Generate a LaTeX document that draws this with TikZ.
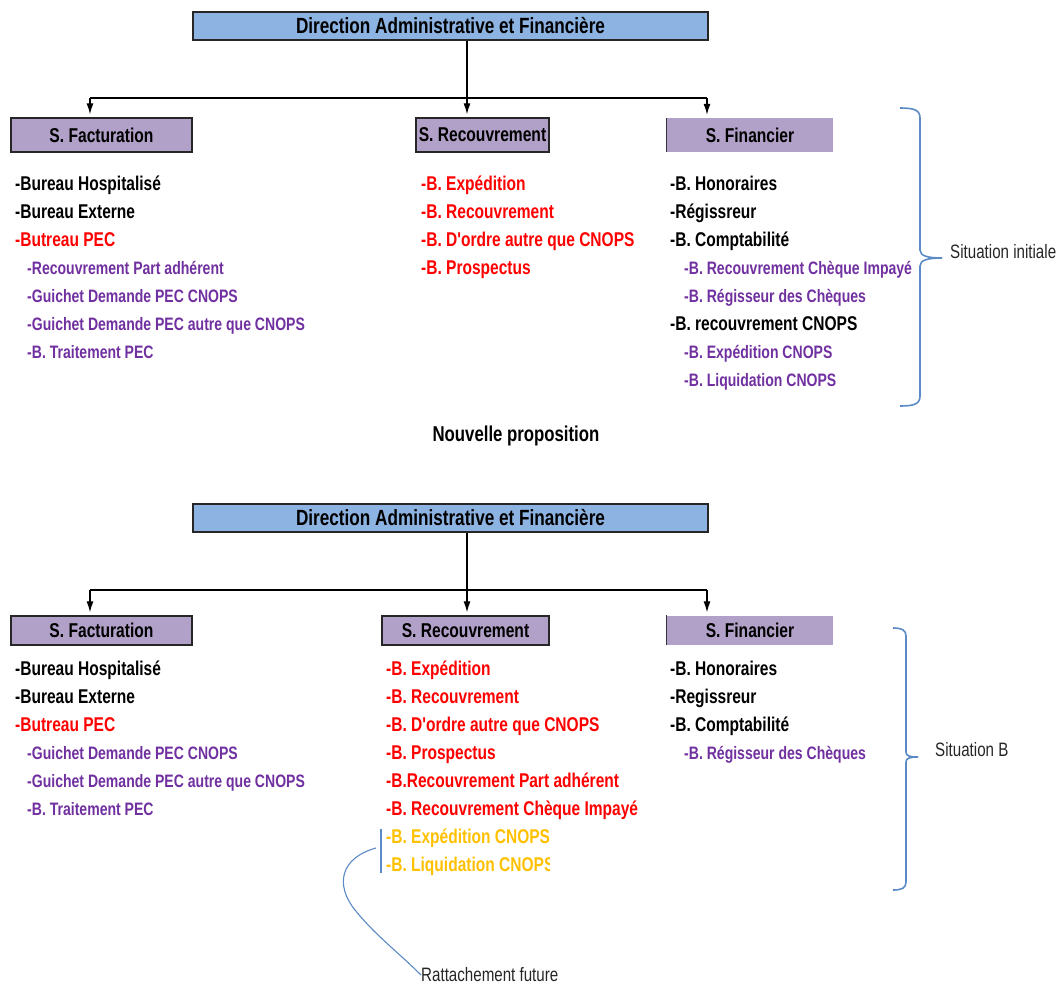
\documentclass[tikz,border=0pt]{standalone}
\usepackage{fontspec}
\newfontfamily\cf{Liberation Sans}[FakeStretch=0.78]
\usetikzlibrary{arrows.meta}
\definecolor{dblue}{HTML}{8DB3E2}
\definecolor{lpurp}{HTML}{B1A0C7}
\definecolor{tpurp}{HTML}{7030A0}
\definecolor{tred}{HTML}{FF0000}
\definecolor{tyel}{HTML}{FFC000}
\definecolor{brc}{HTML}{5B8AC6}
\tikzset{
  dirbox/.style={draw=black!85, line width=1.6pt, fill=dblue, minimum width=515pt, minimum height=28pt, inner sep=0pt, font=\cf\bfseries\fontsize{22}{22}\selectfont},
  svcbox/.style={fill=lpurp, minimum height=34pt, inner sep=0pt, font=\cf\bfseries\fontsize{20}{20}\selectfont},
  framed/.style={draw=black!85, line width=1.4pt},
  item/.style={anchor=base west, inner sep=0pt, yshift=-6.5pt, font=\cf\bfseries\fontsize{19.9}{20}\selectfont},
  sub/.style={anchor=base west, inner sep=0pt, yshift=-6pt, text=tpurp, font=\cf\bfseries\fontsize{18}{18}\selectfont},
  note/.style={anchor=west, inner sep=0pt, text=black!85, font=\cf\fontsize{19.4}{19}\selectfont},
  link/.style={line width=1.2pt, black},
  arr/.style={line width=1.2pt, black, -{Latex[length=11pt,width=7pt]}, shorten >=3pt},
  brace/.style={draw=brc, line width=1.6pt}
}
\begin{document}
\begin{tikzpicture}[x=1pt,y=-1pt]
\useasboundingbox (0,0) rectangle (1063,985);

% ================= TOP (situation initiale) =================
\node[dirbox] (dir1) at (450.5,26) {Direction Administrative et Financière};
\node[svcbox, framed, minimum width=181pt] (fac1) at (101.5,135) {S. Facturation};
\node[svcbox, framed, minimum width=133pt] (rec1) at (482.5,135) {S. Recouvrement};
\node[svcbox, minimum width=166pt] (fin1) at (750,135) {S. Financier};
\draw[line width=1pt, black!80] (fin1.north west) -- (fin1.south west);

\coordinate (j1) at (467,98);
\coordinate (l1) at (90,98);
\coordinate (r1) at (707,98);
\draw[link] (dir1.south -| j1) -- (j1);
\draw[link] (l1) -- (r1);
\draw[arr] (l1) -- (l1 |- fac1.north);
\draw[arr] (j1) -- (j1 |- rec1.north);
\draw[arr] (r1) -- (r1 |- fin1.north);

\node[item] (a1) at (15,184) {-Bureau Hospitalisé};
\node[item] (a2) at (15,212) {-Bureau Externe};
\node[item, text=tred] (a3) at (15,240) {-Butreau PEC};
\node[sub] (a4) at (27,268) {-Recouvrement Part adhérent};
\node[sub] (a5) at (27,296) {-Guichet Demande PEC CNOPS};
\node[sub] (a6) at (27,324) {-Guichet Demande PEC autre que CNOPS};
\node[sub] (a7) at (27,352) {-B. Traitement PEC};

\node[item, text=tred] (b1) at (421,184) {-B. Expédition};
\node[item, text=tred] (b2) at (421,212) {-B. Recouvrement};
\node[item, text=tred] (b3) at (421,240) {-B. D'ordre autre que CNOPS};
\node[item, text=tred] (b4) at (421,268) {-B. Prospectus};

\node[item] (c1) at (670,184) {-B. Honoraires};
\node[item] (c2) at (670,212) {-Régissreur};
\node[item] (c3) at (670,240) {-B. Comptabilité};
\node[sub] (c4) at (684,268) {-B. Recouvrement Chèque Impayé};
\node[sub] (c5) at (684,296) {-B. Régisseur des Chèques};
\node[item] (c6) at (670,324) {-B. recouvrement CNOPS};
\node[sub] (c7) at (684,352) {-B. Expédition CNOPS};
\node[sub] (c8) at (684,380) {-B. Liquidation CNOPS};

\draw[brace] (900,108) .. controls (914,108) and (920,110) .. (920,118) -- (920,250) .. controls (920,256) and (928,258) .. (942,258);
\draw[brace] (900,406) .. controls (914,406) and (920,404) .. (920,396) -- (920,266) .. controls (920,260) and (928,258) .. (942,258);
\node[note] (sit1) at (950,252) {Situation initiale};

\node[anchor=center, inner sep=0pt, font=\cf\bfseries\fontsize{21.5}{21}\selectfont] (np) at (516,436) {Nouvelle proposition};

% ================= BOTTOM (situation B) =================
\node[dirbox] (dir2) at (450.5,518) {Direction Administrative et Financière};
\node[svcbox, framed, minimum width=181pt, minimum height=29pt] (fac2) at (101.5,630.5) {S. Facturation};
\node[svcbox, framed, minimum width=167pt, minimum height=29pt] (rec2) at (465.5,630.5) {S. Recouvrement};
\node[svcbox, minimum width=166pt, minimum height=29pt] (fin2) at (750,630) {S. Financier};
\draw[line width=1pt, black!80] (fin2.north west) -- (fin2.south west);

\coordinate (j2) at (467,590);
\coordinate (l2) at (90,590);
\coordinate (r2) at (707,590);
\draw[link] (dir2.south -| j2) -- (j2);
\draw[link] (l2) -- (r2);
\draw[arr] (l2) -- (l2 |- fac2.north);
\draw[arr] (j2) -- (j2 |- rec2.north);
\draw[arr] (r2) -- (r2 |- fin2.north);

\node[item] (d1) at (15,669) {-Bureau Hospitalisé};
\node[item] (d2) at (15,697) {-Bureau Externe};
\node[item, text=tred] (d3) at (15,725) {-Butreau PEC};
\node[sub] (d4) at (27,753) {-Guichet Demande PEC CNOPS};
\node[sub] (d5) at (27,781) {-Guichet Demande PEC autre que CNOPS};
\node[sub] (d6) at (27,809) {-B. Traitement PEC};

\node[item, text=tred] (e1) at (386,669) {-B. Expédition};
\node[item, text=tred] (e2) at (386,697) {-B. Recouvrement};
\node[item, text=tred] (e3) at (386,725) {-B. D'ordre autre que CNOPS};
\node[item, text=tred] (e4) at (386,753) {-B. Prospectus};
\node[item, text=tred] (e5) at (386,781) {-B.Recouvrement Part adhérent};
\node[item, text=tred] (e6) at (386,809) {-B. Recouvrement Chèque Impayé};
\begin{scope}
\clip (383,822) rectangle (549,880);
\node[item, text=tyel] (e7) at (386,837) {-B. Expédition CNOPS};
\node[item, text=tyel] (e8) at (386,865) {-B. Liquidation CNOPS};
\end{scope}

\node[item] (f1) at (670,669) {-B. Honoraires};
\node[item] (f2) at (670,697) {-Regissreur};
\node[item] (f3) at (670,725) {-B. Comptabilité};
\node[sub] (f4) at (684,753) {-B. Régisseur des Chèques};

\draw[brace] (893,628) .. controls (902,628) and (906,630) .. (906,636) -- (906,752) .. controls (906,756) and (910,757) .. (918,757);
\draw[brace] (893,890) .. controls (902,890) and (906,888) .. (906,882) -- (906,762) .. controls (906,758) and (910,757) .. (918,757);
\node[note] (sit2) at (935,750) {Situation B};

% future attachment
\coordinate (vt) at (381,829);
\coordinate (vb) at (381,873);
\draw[brc, line width=1.1pt] (vt) -- (vb);
\coordinate (cs) at (376,848);
\node[note] (rf) at (421,975) {Rattachement future};
\draw[brc, line width=1.1pt] (cs) .. controls (340,858) and (335,885) .. (355,910) .. controls (375,935) and (398,952) .. (rf.west);
\end{tikzpicture}
\end{document}
